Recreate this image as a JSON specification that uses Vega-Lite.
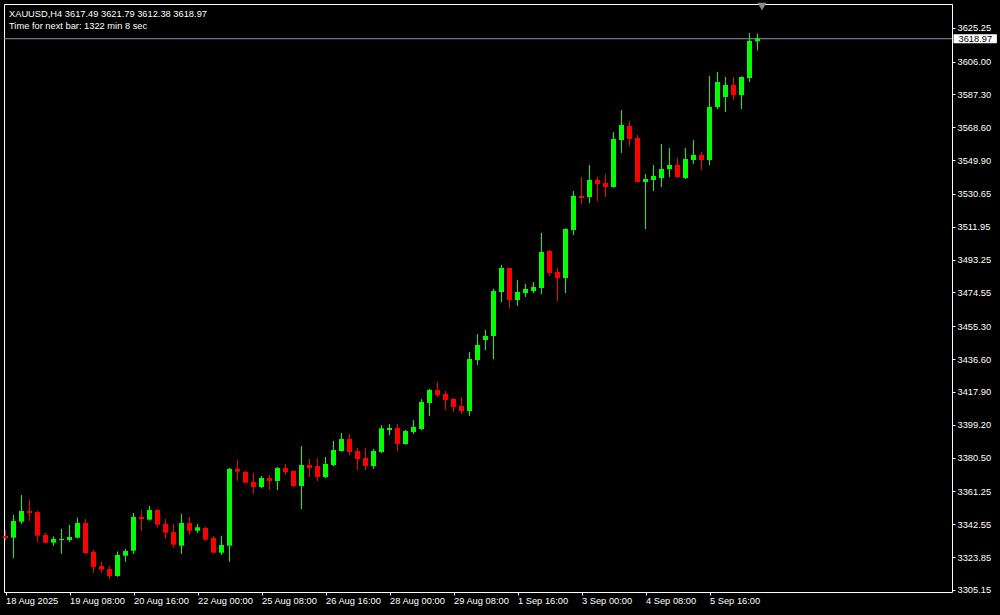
{
  "$schema": "https://vega.github.io/schema/vega-lite/v6.json",
  "width": 948,
  "height": 588,
  "autosize": {"type": "none"},
  "padding": {"left": 4, "top": 4, "right": 48, "bottom": 23},
  "background": "black",
  "config": {
    "view": {"stroke": "white", "strokeWidth": 1, "fill": "black"},
    "font": "Liberation Sans",
    "axis": {
      "labelOverlap": false,
      "labelBound": false,
      "labelFlush": false,
      "domain": false,
      "grid": false,
      "tickColor": "white",
      "tickSize": 3,
      "labelColor": "white",
      "labelFont": "Liberation Sans",
      "labelFontSize": 9.3,
      "labelAlign": "left",
      "title": null,
      "zindex": 1
    }
  },
  "title": {
    "text": "XAUUSD,H4  3617.49 3621.79 3612.38 3618.97",
    "subtitle": "Time for next bar: 1322 min 8 sec",
    "anchor": "start",
    "frame": "group",
    "orient": "top",
    "offset": -28,
    "dx": 5,
    "color": "white",
    "subtitleColor": "white",
    "fontSize": 9.3,
    "subtitleFontSize": 9.3,
    "fontWeight": "normal",
    "font": "Liberation Sans",
    "subtitleFont": "Liberation Sans",
    "subtitlePadding": 2
  },
  "data": {
    "values": [
      {"i": 0, "o": 3335.89, "h": 3339.30, "l": 3333.21, "c": 3334.75},
      {"i": 1, "o": 3334.92, "h": 3347.84, "l": 3323.53, "c": 3344.43},
      {"i": 2, "o": 3344.03, "h": 3359.23, "l": 3342.89, "c": 3350.12},
      {"i": 3, "o": 3350.12, "h": 3356.38, "l": 3344.60, "c": 3348.98},
      {"i": 4, "o": 3349.50, "h": 3350.20, "l": 3332.64, "c": 3336.06},
      {"i": 5, "o": 3336.46, "h": 3337.76, "l": 3331.73, "c": 3332.07},
      {"i": 6, "o": 3332.07, "h": 3335.49, "l": 3330.36, "c": 3334.18},
      {"i": 7, "o": 3333.61, "h": 3339.87, "l": 3325.81, "c": 3334.18},
      {"i": 8, "o": 3333.61, "h": 3342.15, "l": 3332.64, "c": 3335.32},
      {"i": 9, "o": 3334.92, "h": 3346.30, "l": 3334.60, "c": 3343.29},
      {"i": 10, "o": 3343.29, "h": 3345.56, "l": 3325.81, "c": 3326.21},
      {"i": 11, "o": 3326.78, "h": 3328.09, "l": 3314.99, "c": 3318.24},
      {"i": 12, "o": 3318.81, "h": 3321.26, "l": 3314.99, "c": 3316.70},
      {"i": 13, "o": 3317.10, "h": 3318.81, "l": 3311.41, "c": 3313.11},
      {"i": 14, "o": 3313.11, "h": 3326.95, "l": 3312.55, "c": 3325.07},
      {"i": 15, "o": 3324.67, "h": 3328.49, "l": 3321.26, "c": 3327.35},
      {"i": 16, "o": 3327.52, "h": 3348.98, "l": 3325.81, "c": 3346.70},
      {"i": 17, "o": 3346.70, "h": 3350.69, "l": 3338.90, "c": 3345.56},
      {"i": 18, "o": 3345.17, "h": 3352.96, "l": 3344.90, "c": 3350.69},
      {"i": 19, "o": 3350.69, "h": 3351.26, "l": 3340.84, "c": 3342.32},
      {"i": 20, "o": 3342.72, "h": 3345.56, "l": 3334.35, "c": 3337.76},
      {"i": 21, "o": 3338.16, "h": 3342.72, "l": 3329.23, "c": 3330.93},
      {"i": 22, "o": 3330.36, "h": 3348.41, "l": 3325.81, "c": 3343.29},
      {"i": 23, "o": 3343.29, "h": 3346.70, "l": 3336.63, "c": 3338.90},
      {"i": 24, "o": 3338.90, "h": 3342.72, "l": 3337.76, "c": 3340.84},
      {"i": 25, "o": 3340.44, "h": 3341.01, "l": 3333.21, "c": 3333.78},
      {"i": 26, "o": 3334.75, "h": 3335.89, "l": 3326.10, "c": 3326.38},
      {"i": 27, "o": 3326.38, "h": 3335.89, "l": 3325.24, "c": 3330.76},
      {"i": 28, "o": 3330.36, "h": 3374.60, "l": 3321.26, "c": 3374.03},
      {"i": 29, "o": 3374.03, "h": 3379.15, "l": 3367.37, "c": 3372.49},
      {"i": 30, "o": 3372.32, "h": 3372.89, "l": 3366.00, "c": 3366.23},
      {"i": 31, "o": 3366.63, "h": 3371.75, "l": 3359.80, "c": 3363.78},
      {"i": 32, "o": 3363.78, "h": 3370.04, "l": 3363.21, "c": 3368.90},
      {"i": 33, "o": 3368.90, "h": 3370.61, "l": 3362.07, "c": 3367.20},
      {"i": 34, "o": 3367.20, "h": 3375.17, "l": 3362.07, "c": 3374.60},
      {"i": 35, "o": 3374.60, "h": 3376.87, "l": 3370.61, "c": 3372.32},
      {"i": 36, "o": 3372.89, "h": 3373.00, "l": 3363.78, "c": 3364.35},
      {"i": 37, "o": 3364.35, "h": 3387.12, "l": 3351.26, "c": 3376.30},
      {"i": 38, "o": 3376.30, "h": 3379.72, "l": 3369.47, "c": 3374.60},
      {"i": 39, "o": 3375.74, "h": 3380.29, "l": 3367.20, "c": 3369.47},
      {"i": 40, "o": 3369.47, "h": 3380.86, "l": 3368.90, "c": 3376.87},
      {"i": 41, "o": 3376.30, "h": 3389.97, "l": 3375.74, "c": 3384.84},
      {"i": 42, "o": 3384.27, "h": 3394.52, "l": 3384.00, "c": 3391.11},
      {"i": 43, "o": 3391.11, "h": 3393.95, "l": 3382.00, "c": 3383.71},
      {"i": 44, "o": 3384.27, "h": 3385.98, "l": 3373.46, "c": 3379.72},
      {"i": 45, "o": 3380.29, "h": 3385.98, "l": 3373.46, "c": 3375.74},
      {"i": 46, "o": 3375.74, "h": 3385.41, "l": 3374.03, "c": 3384.27},
      {"i": 47, "o": 3383.71, "h": 3398.91, "l": 3383.14, "c": 3397.20},
      {"i": 48, "o": 3396.23, "h": 3399.47, "l": 3393.38, "c": 3397.37},
      {"i": 49, "o": 3397.37, "h": 3399.47, "l": 3384.27, "c": 3388.26},
      {"i": 50, "o": 3388.26, "h": 3396.23, "l": 3388.00, "c": 3395.66},
      {"i": 51, "o": 3395.09, "h": 3401.92, "l": 3393.95, "c": 3397.94},
      {"i": 52, "o": 3396.80, "h": 3413.88, "l": 3396.23, "c": 3412.17},
      {"i": 53, "o": 3411.60, "h": 3419.57, "l": 3404.20, "c": 3419.00},
      {"i": 54, "o": 3419.00, "h": 3423.56, "l": 3415.02, "c": 3416.16},
      {"i": 55, "o": 3416.73, "h": 3418.43, "l": 3407.62, "c": 3413.31},
      {"i": 56, "o": 3413.88, "h": 3414.45, "l": 3406.48, "c": 3409.33},
      {"i": 57, "o": 3409.89, "h": 3415.02, "l": 3405.34, "c": 3407.05},
      {"i": 58, "o": 3407.05, "h": 3440.64, "l": 3404.20, "c": 3436.65},
      {"i": 59, "o": 3436.08, "h": 3450.88, "l": 3433.39, "c": 3444.62},
      {"i": 60, "o": 3447.47, "h": 3453.16, "l": 3441.77, "c": 3449.74},
      {"i": 61, "o": 3449.74, "h": 3476.50, "l": 3436.65, "c": 3475.36},
      {"i": 62, "o": 3474.79, "h": 3490.16, "l": 3469.10, "c": 3488.46},
      {"i": 63, "o": 3488.46, "h": 3488.60, "l": 3465.69, "c": 3470.24},
      {"i": 64, "o": 3470.24, "h": 3481.63, "l": 3466.82, "c": 3474.79},
      {"i": 65, "o": 3474.22, "h": 3479.35, "l": 3471.95, "c": 3476.50},
      {"i": 66, "o": 3475.36, "h": 3480.49, "l": 3474.22, "c": 3477.64},
      {"i": 67, "o": 3477.07, "h": 3508.38, "l": 3473.66, "c": 3497.57},
      {"i": 68, "o": 3498.13, "h": 3498.70, "l": 3483.90, "c": 3485.61},
      {"i": 69, "o": 3486.18, "h": 3488.46, "l": 3469.67, "c": 3482.76},
      {"i": 70, "o": 3482.76, "h": 3510.90, "l": 3474.22, "c": 3510.66},
      {"i": 71, "o": 3510.09, "h": 3532.29, "l": 3507.24, "c": 3529.45},
      {"i": 72, "o": 3529.44, "h": 3540.25, "l": 3524.88, "c": 3528.30},
      {"i": 73, "o": 3528.87, "h": 3547.08, "l": 3525.45, "c": 3538.55},
      {"i": 74, "o": 3538.55, "h": 3540.25, "l": 3526.59, "c": 3536.27},
      {"i": 75, "o": 3536.84, "h": 3541.96, "l": 3528.87, "c": 3534.56},
      {"i": 76, "o": 3534.56, "h": 3565.87, "l": 3534.30, "c": 3561.89},
      {"i": 77, "o": 3561.32, "h": 3578.40, "l": 3553.92, "c": 3569.86},
      {"i": 78, "o": 3569.29, "h": 3572.13, "l": 3557.90, "c": 3561.89},
      {"i": 79, "o": 3562.46, "h": 3564.16, "l": 3537.20, "c": 3537.41},
      {"i": 80, "o": 3537.41, "h": 3541.96, "l": 3510.65, "c": 3539.11},
      {"i": 81, "o": 3538.55, "h": 3547.08, "l": 3532.28, "c": 3540.82},
      {"i": 82, "o": 3539.68, "h": 3559.04, "l": 3534.56, "c": 3544.81},
      {"i": 83, "o": 3544.81, "h": 3556.76, "l": 3540.25, "c": 3547.08},
      {"i": 84, "o": 3547.08, "h": 3551.07, "l": 3539.68, "c": 3540.25},
      {"i": 85, "o": 3539.68, "h": 3556.76, "l": 3539.11, "c": 3550.50},
      {"i": 86, "o": 3549.93, "h": 3561.32, "l": 3547.65, "c": 3552.78},
      {"i": 87, "o": 3552.78, "h": 3554.49, "l": 3544.24, "c": 3549.93},
      {"i": 88, "o": 3549.93, "h": 3597.75, "l": 3547.08, "c": 3580.10},
      {"i": 89, "o": 3580.11, "h": 3600.03, "l": 3578.97, "c": 3594.34},
      {"i": 90, "o": 3585.80, "h": 3597.18, "l": 3577.26, "c": 3592.63},
      {"i": 91, "o": 3592.63, "h": 3597.18, "l": 3584.09, "c": 3586.94},
      {"i": 92, "o": 3586.94, "h": 3597.40, "l": 3578.97, "c": 3597.18},
      {"i": 93, "o": 3596.61, "h": 3622.23, "l": 3594.34, "c": 3617.68},
      {"i": 94, "o": 3617.49, "h": 3621.79, "l": 3612.38, "c": 3618.97}
    ]
  },
  "layer": [
    {
      "mark": {"type": "rule", "strokeWidth": 1},
      "encoding": {
        "x": {
          "field": "i",
          "type": "quantitative",
          "scale": {"domain": [-0.1875, 118.3125], "nice": false, "zero": false, "padding": 0},
          "axis": {
            "orient": "bottom",
            "values": [0, 8, 16, 24, 32, 40, 48, 56, 64, 72, 80, 88],
            "tickCount": 30,
            "labelExpr": "['18 Aug 2025','19 Aug 08:00','20 Aug 16:00','22 Aug 00:00','25 Aug 08:00','26 Aug 16:00','28 Aug 00:00','29 Aug 08:00','1 Sep 16:00','3 Sep 00:00','4 Sep 08:00','5 Sep 16:00'][round(datum.value/8)]",
            "labelBaseline": "top",
            "labelPadding": 1,
            "labelOverlap": false
          }
        },
        "y": {
          "field": "l",
          "type": "quantitative",
          "scale": {"domain": [3304.0, 3638.74], "nice": false, "zero": false, "padding": 0},
          "axis": {
            "orient": "right",
            "values": [3305.15, 3323.85, 3342.55, 3361.25, 3380.5, 3399.2, 3417.9, 3436.6, 3455.3, 3474.55, 3493.25, 3511.95, 3530.65, 3549.9, 3568.6, 3587.3, 3606.0, 3625.25],
            "tickCount": 30,
            "format": ".2f",
            "labelBaseline": "middle",
            "labelPadding": 2,
            "labelOverlap": false
          }
        },
        "y2": {"field": "h"},
        "color": {"condition": {"test": "datum.c >= datum.o", "value": "#00ff00"}, "value": "#ff0000"}
      }
    },
    {
      "data": {"values": [{"p": 3618.97}]},
      "mark": {"type": "rule", "color": "#8a96a3", "strokeWidth": 1},
      "encoding": {
        "y": {"field": "p", "type": "quantitative"}
      }
    },
    {
      "mark": {"type": "rule", "strokeWidth": 1},
      "encoding": {
        "x": {"field": "i", "type": "quantitative"},
        "y": {"field": "l", "type": "quantitative"},
        "y2": {"field": "h"},
        "color": {"condition": {"test": "datum.c >= datum.o", "value": "#00ff00"}, "value": "#ff0000"}
      }
    },
    {
      "mark": {"type": "bar", "width": 5},
      "encoding": {
        "x": {"field": "i", "type": "quantitative"},
        "y": {"field": "o", "type": "quantitative"},
        "y2": {"field": "c"},
        "color": {"condition": {"test": "datum.c >= datum.o", "value": "#00ff00"}, "value": "#ff0000"}
      }
    },
    {
      "data": {"values": [{"p": 3637.2}]},
      "mark": {"type": "point", "shape": "triangle-down", "filled": true, "color": "#8a8a8a", "opacity": 1, "size": 80},
      "encoding": {
        "x": {"datum": 94.56, "type": "quantitative"},
        "y": {"field": "p", "type": "quantitative"}
      }
    },
    {
      "data": {"values": [{"p": 3618.97, "label": "3618.97"}]},
      "mark": {"type": "point", "shape": "M-1,-0.21L1,-0.21L1,0.21L-1,0.21Z", "filled": true, "color": "white", "opacity": 1, "size": 1884, "clip": false},
      "encoding": {
        "x": {"datum": 121.21, "type": "quantitative"},
        "y": {"field": "p", "type": "quantitative"}
      }
    },
    {
      "data": {"values": [{"p": 3618.97, "label": "3618.97"}]},
      "mark": {"type": "text", "align": "left", "baseline": "middle", "color": "black", "fontSize": 9.3, "font": "Liberation Sans", "clip": false},
      "encoding": {
        "x": {"datum": 119.125, "type": "quantitative"},
        "y": {"field": "p", "type": "quantitative"},
        "text": {"field": "label"}
      }
    }
  ]
}
